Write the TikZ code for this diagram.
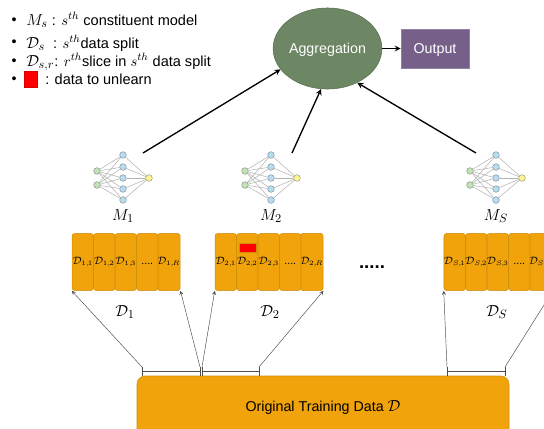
\documentclass[tikz,border=0pt]{standalone}
\usepackage{fontspec}
\setmainfont{Liberation Sans}
\usepackage{amssymb}
\usepackage{amsmath}
\usetikzlibrary{arrows,shapes.geometric,positioning}
\definecolor{orangeD}{HTML}{F0A30A}
\definecolor{orangeR}{HTML}{CF8D0C}
\definecolor{gruenA}{HTML}{6D8764}
\definecolor{gruenR}{HTML}{557050}
\definecolor{lilaO}{HTML}{76608A}
\definecolor{netzG}{HTML}{BFE3B4}
\definecolor{netzB}{HTML}{B5DCF2}
\definecolor{netzY}{HTML}{FFF58A}
\newcommand{\gm}[1]{{\fontsize{12.5pt}{14pt}\selectfont$#1$}}
\newcommand{\dlab}[2]{$\mathcal{D}_{\scriptscriptstyle #1,\mkern-2mu #2}$}
\tikzset{
  slice/.style={draw=orangeR,fill=orangeD,rounded corners=2pt,inner sep=0pt,minimum width=16.1pt,minimum height=42.8pt,font=\footnotesize},
  legtext/.style={anchor=base west,inner sep=0pt,font=\fontsize{10.9pt}{12pt}\selectfont},
  gross/.style={inner sep=0pt,text height=7.7pt,text depth=0pt,text=white,font=\fontsize{10.7pt}{12pt}\selectfont},
  neuron/.style={circle,draw=gray,line width=0.3pt,inner sep=0pt,minimum size=5pt},
  verbindung/.style={draw=black!30,line width=0.4pt},
  pfeilgross/.style={-stealth,black,line width=1pt},
  pfeilklein/.style={-stealth,black!70,line width=0.35pt},
  klammer/.style={black!70,line width=0.35pt}
}
\begin{document}
\begin{tikzpicture}[x=0.75pt,y=-0.75pt]
\useasboundingbox (0,0) rectangle (544,429);
\clip (0,0) rectangle (544,429);
%Legende
\foreach \yb [count=\n] in {21,43,62,80}{
\node[inner sep=0pt,font=\fontsize{10.7pt}{12pt}\selectfont] (bullet\n) at (14,\yb) {•};
}
\node[legtext] (leg1) at (26,25) {\gm{M_s} : $s^{th}$ constituent model};
\node[legtext] (leg2) at (26,48) {\gm{\mathcal{D}_s}\ \ : $s^{th}$data split};
\node[legtext] (leg3) at (26,66) {\gm{\mathcal{D}_{s,r}}: $r^{th}$slice in $s^{th}$ data split};
\node[draw=red!85!black,fill=red,inner sep=0pt,minimum width=9.75pt,minimum height=12pt] (legrot) at (30.5,79) {};
\node[legtext] (leg4) at (45,84) {: data to unlearn};
%Oben
\node[ellipse,draw=gruenR,fill=gruenA,minimum width=69pt,minimum height=60.8pt,gross] (agg) at (327.5,48.5) {Aggregation};
\node[draw=lilaO!80!white,fill=lilaO,minimum width=51pt,minimum height=29pt,gross] (out) at (435,48.5) {Output};
\draw[pfeilgross] (agg) -- (out);
%Netze
\foreach \netz/\xn/\lab in {1/97/1,2/245/2,3/470/S}{
  \pgfmathsetmacro{\xh}{\xn+26}
  \pgfmathsetmacro{\xo}{\xn+52}
  \foreach \yi [count=\i] in {171,185}{
    \node[neuron,fill=netzG] (in\netz\i) at (\xn,\yi) {};
  }
  \foreach \yh [count=\h] in {155,167,178,189,200}{
    \node[neuron,fill=netzB] (hid\netz\h) at (\xh,\yh) {};
  }
  \node[neuron,fill=netzY] (aus\netz) at (\xo,178) {};
  \foreach \h in {1,...,5}{
    \draw[verbindung] (in\netz1) -- (hid\netz\h);
    \draw[verbindung] (in\netz2) -- (hid\netz\h);
    \draw[verbindung] (hid\netz\h) -- (aus\netz);
  }
  \node[font=\fontsize{13pt}{15pt}\selectfont] (M\netz) at (\xh,216) {$M_\lab$};
}
\coordinate (m1top) at (143,153);
\coordinate (m2top) at (292,153);
\coordinate (m3top) at (476,153);
\draw[pfeilgross] (m1top) -- (agg.204);
\draw[pfeilgross] (m2top) -- (agg.261);
\draw[pfeilgross] (m3top) -- (agg.311);
%Daten
\foreach \g/\xg/\gn/\xd in {1/72/1/125,2/215/2/270,3/444/S/497}{
  \foreach \r/\rn in {1/1,2/2,3/3,5/R}{
    \node[slice] (s\g\r) at ({\xg+(\r-0.5)*21.5},262) {\dlab{\gn}{\rn}};
  }
  \node[slice] (s\g4) at ({\xg+3.5*21.5},262) {\raisebox{-3pt}{....}};
  \node[font=\fontsize{13pt}{15pt}\selectfont] (D\g) at (\xd,312) {$\mathcal{D}_\gn$};
}
\node[fill=red,draw=orangeR,inner sep=0pt,minimum width=13pt,minimum height=7pt] (rot) at (247.5,247.5) {};
\node[anchor=base,font=\fontsize{14pt}{16pt}\bfseries\selectfont] (punkte) at (372,268) {.....};
%Unten
\node[draw=orangeR,fill=orangeD,rounded corners=6pt,inner sep=0pt,minimum width=279pt,minimum height=60pt] (base) at (323,416) {};
\node[anchor=base,font=\fontsize{10.7pt}{12pt}\selectfont] (basetext) at (323,411) {Original Training Data \gm{\mathcal{D}}};
\foreach \k/\xa/\xb in {1/142/200,2/202/259,3/447/505}{
  \coordinate (ka\k) at (\xa,367);
  \coordinate (kb\k) at (\xb,367);
  \coordinate (fa\k) at (\xa,376);
  \coordinate (fb\k) at (\xb,376);
  \coordinate (ma\k) at (\xa,371);
  \coordinate (mb\k) at (\xb,371);
  \draw[klammer] (ka\k) -- (fa\k);
  \draw[klammer] (kb\k) -- (fb\k);
  \draw[klammer] (ma\k) -- (mb\k);
}
\draw[pfeilklein] (ka1) -- (s11.south west);
\draw[pfeilklein] (kb1) -- (s15.south east);
\draw[pfeilklein] (ka2) -- (s21.south west);
\draw[pfeilklein] (kb2) -- (s25.south east);
\draw[pfeilklein] (ka3) -- (s31.south west);
\draw[pfeilklein] (kb3) -- (s35.south east);
\end{tikzpicture}
\end{document}
